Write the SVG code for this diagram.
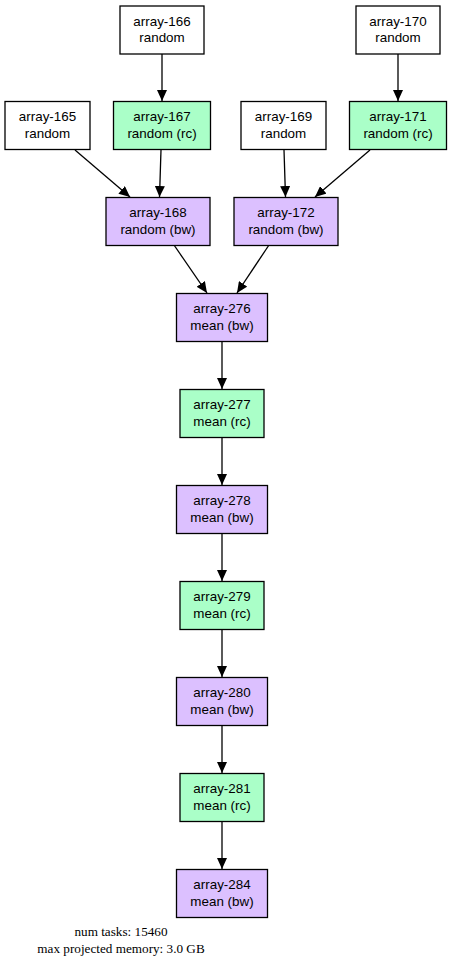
<svg xmlns="http://www.w3.org/2000/svg" width="452" height="968" viewBox="0 0 452 968">
<defs>
<style>
.n rect{stroke:#000;stroke-width:1.3}
.w rect{fill:#fff}
.g rect{fill:#aaffc8}
.p rect{fill:#dcc0ff}
.n text{font-family:"Liberation Sans",Arial,sans-serif;font-size:13.4px;text-anchor:middle;fill:#000}
.e line{stroke:#000;stroke-width:1.3}
.f{font-family:"Liberation Serif","Times New Roman",serif;font-size:13.2px;text-anchor:middle;fill:#000}
</style>
<marker id="ah" viewBox="0 0 11 10" refX="11" refY="5" markerWidth="11" markerHeight="10" markerUnits="userSpaceOnUse" orient="auto">
<path d="M0,0 L11,5 L0,10 Z" fill="#000"/>
</marker>
</defs>
<rect width="452" height="968" fill="#fff"/>
<g id="edges" class="e">
<line x1="162" y1="54" x2="162" y2="101" marker-end="url(#ah)"/>
<line x1="398" y1="54" x2="398" y2="101" marker-end="url(#ah)"/>
<line x1="75" y1="150" x2="130" y2="197" marker-end="url(#ah)"/>
<line x1="161" y1="150" x2="159.5" y2="197" marker-end="url(#ah)"/>
<line x1="284" y1="150" x2="285.5" y2="197" marker-end="url(#ah)"/>
<line x1="370" y1="150" x2="315" y2="197" marker-end="url(#ah)"/>
<line x1="174" y1="245" x2="207" y2="293" marker-end="url(#ah)"/>
<line x1="269" y1="245" x2="237" y2="293" marker-end="url(#ah)"/>
<line x1="222" y1="341" x2="222" y2="389" marker-end="url(#ah)"/>
<line x1="222" y1="437" x2="222" y2="485" marker-end="url(#ah)"/>
<line x1="222" y1="533" x2="222" y2="581" marker-end="url(#ah)"/>
<line x1="222" y1="629" x2="222" y2="677" marker-end="url(#ah)"/>
<line x1="222" y1="725" x2="222" y2="773" marker-end="url(#ah)"/>
<line x1="222" y1="821" x2="222" y2="869" marker-end="url(#ah)"/>
</g>
<g id="array-166" class="n w"><rect x="120" y="6" width="84" height="48"/><text x="162" y="26">array-166</text><text x="162" y="42">random</text></g>
<g id="array-170" class="n w"><rect x="356" y="6" width="84" height="48"/><text x="398" y="26">array-170</text><text x="398" y="42">random</text></g>
<g id="array-165" class="n w"><rect x="5" y="101.5" width="85" height="48"/><text x="47.5" y="121">array-165</text><text x="47.5" y="138">random</text></g>
<g id="array-167" class="n g"><rect x="113.5" y="101.5" width="97" height="48"/><text x="162" y="121">array-167</text><text x="162" y="138">random (rc)</text></g>
<g id="array-169" class="n w"><rect x="241" y="101.5" width="85" height="48"/><text x="283.5" y="121">array-169</text><text x="283.5" y="138">random</text></g>
<g id="array-171" class="n g"><rect x="349.5" y="101.5" width="97" height="48"/><text x="398" y="121">array-171</text><text x="398" y="138">random (rc)</text></g>
<g id="array-168" class="n p"><rect x="106" y="197.5" width="104" height="48"/><text x="158" y="217">array-168</text><text x="158" y="234">random (bw)</text></g>
<g id="array-172" class="n p"><rect x="234" y="197.5" width="104" height="48"/><text x="286" y="217">array-172</text><text x="286" y="234">random (bw)</text></g>
<g id="array-276" class="n p"><rect x="176.5" y="293.5" width="91" height="48"/><text x="222" y="313">array-276</text><text x="222" y="330">mean (bw)</text></g>
<g id="array-277" class="n g"><rect x="180" y="389.5" width="84" height="48"/><text x="222" y="409">array-277</text><text x="222" y="426">mean (rc)</text></g>
<g id="array-278" class="n p"><rect x="176.5" y="485.5" width="91" height="48"/><text x="222" y="505">array-278</text><text x="222" y="522">mean (bw)</text></g>
<g id="array-279" class="n g"><rect x="180" y="581.5" width="84" height="48"/><text x="222" y="601">array-279</text><text x="222" y="618">mean (rc)</text></g>
<g id="array-280" class="n p"><rect x="176.5" y="677.5" width="91" height="48"/><text x="222" y="697">array-280</text><text x="222" y="714">mean (bw)</text></g>
<g id="array-281" class="n g"><rect x="180" y="773.5" width="84" height="48"/><text x="222" y="793">array-281</text><text x="222" y="810">mean (rc)</text></g>
<g id="array-284" class="n p"><rect x="176.5" y="869.5" width="91" height="48"/><text x="222" y="889">array-284</text><text x="222" y="906">mean (bw)</text></g>
<text class="f" x="121" y="936">num tasks: 15460</text>
<text class="f" x="121" y="953">max projected memory: 3.0 GB</text>
</svg>
